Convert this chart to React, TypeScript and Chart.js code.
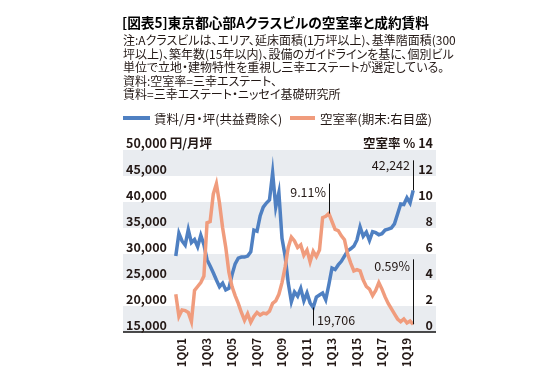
import React, { useEffect, useRef } from 'react';
import { Chart, registerables } from 'chart.js';

Chart.register(...registerables);

// ---- data ----
const quarters = [
  '3Q00', '4Q00',
  '1Q01', '2Q01', '3Q01', '4Q01',
  '1Q02', '2Q02', '3Q02', '4Q02',
  '1Q03', '2Q03', '3Q03', '4Q03',
  '1Q04', '2Q04', '3Q04', '4Q04',
  '1Q05', '2Q05', '3Q05', '4Q05',
  '1Q06', '2Q06', '3Q06', '4Q06',
  '1Q07', '2Q07', '3Q07', '4Q07',
  '1Q08', '2Q08', '3Q08', '4Q08',
  '1Q09', '2Q09', '3Q09', '4Q09',
  '1Q10', '2Q10', '3Q10', '4Q10',
  '1Q11', '2Q11', '3Q11', '4Q11',
  '1Q12', '2Q12', '3Q12', '4Q12',
  '1Q13', '2Q13', '3Q13', '4Q13',
  '1Q14', '2Q14', '3Q14', '4Q14',
  '1Q15', '2Q15', '3Q15', '4Q15',
  '1Q16', '2Q16', '3Q16', '4Q16',
  '1Q17', '2Q17', '3Q17', '4Q17',
  '1Q18', '2Q18', '3Q18', '4Q18',
  '1Q19', '2Q19', '3Q19',
];

// 賃料/月・坪(共益費除く)  円
const rent = [
  29600, 34000,
  32500, 31700, 34700, 32200,
  32800, 31400, 33600, 31800,
  28900, 27700, 26400, 25000,
  23700, 24400, 23100, 23400,
  26000, 28100, 29200, 29400,
  29400, 29600, 30400, 34600,
  34400, 37300, 39000, 39800,
  40400, 45600, 39000, 41800,
  33000, 29600, 24400, 20800,
  22700, 21900, 23400, 21000,
  22500, 20600, 19706, 21700,
  22100, 22500, 21200, 24100,
  27300, 27000, 27900, 28600,
  29600, 30600, 31000, 31500,
  32700, 35200, 33400, 34200,
  32600, 34300, 34100, 33700,
  33900, 34600, 34800, 35000,
  35800, 37700, 39600, 39500,
  40800, 39800, 42242,
];

// 空室率(期末) %
const vacancy = [
  2.9, 1.2,
  1.7, 1.65, 1.5, 0.8,
  3.2, 3.5, 3.8, 4.3,
  8.4, 8.5, 10.6, 11.4,
  9.9, 8.0, 6.5, 4.6,
  3.5, 2.8, 2.2, 1.5,
  0.9, 1.4, 0.75, 1.2,
  1.5, 1.3, 1.45, 1.4,
  1.6, 2.2, 2.4, 2.9,
  3.8, 5.0, 6.5, 7.3,
  7.0, 6.5, 6.7, 5.9,
  6.3, 5.4, 6.2, 5.8,
  6.3, 8.8, 8.9, 9.11,
  8.5, 7.9, 7.8, 7.4,
  7.1, 6.0, 5.3, 4.7,
  4.8, 4.7, 4.0, 3.5,
  3.3, 2.8, 3.2, 3.8,
  3.3, 2.7, 2.2, 1.8,
  1.4, 1.0, 0.8, 1.0,
  0.7, 0.85, 0.59,
];

const xTickLabels = ['1Q01', '1Q03', '1Q05', '1Q07', '1Q09', '1Q11', '1Q13', '1Q15', '1Q17', '1Q19'];
const leftTicks = [15000, 20000, 25000, 30000, 35000, 40000, 45000, 50000];
const rightTicks = [0, 2, 4, 6, 8, 10, 12, 14];

const callouts = [
  { quarter: '3Q19', series: 'rent', text: '42,242', len: 30, up: true, textDy: 5, side: 'left' },
  { quarter: '4Q12', series: 'vacancy', text: '9.11%', len: 30, up: true, textDy: 9, side: 'left' },
  { quarter: '3Q11', series: 'rent', text: '19,706', len: 18, up: false, textDy: 5, side: 'right' },
  { quarter: '3Q19', series: 'vacancy', text: '0.59%', len: 65, up: true, textDy: 7, side: 'left' },
];

const BLUE = '#4f80c2';
const ORANGE = '#f09c7d';
const BAND = '#e9ecf0';
const INK = '#231815';
const FONT = '"Noto Sans CJK JP", "Noto Sans", sans-serif';

const fmt = (v: number) => v.toLocaleString('en-US');

const decorPlugin = {
  id: 'decor',
  beforeDatasetsDraw(chart: any) {
    const { ctx, chartArea: a, scales } = chart;
    const y = scales.yL;
    ctx.save();
    ctx.fillStyle = BAND;
    for (let i = 0; i < leftTicks.length - 1; i += 2) {
      const top = y.getPixelForValue(leftTicks[i + 1]);
      const bot = y.getPixelForValue(leftTicks[i]);
      ctx.fillRect(a.left, top, a.right - a.left, bot - top);
    }
    ctx.restore();
  },
  afterDatasetsDraw(chart: any) {
    const { ctx, chartArea: a, scales } = chart;
    const yL = scales.yL;
    const yR = scales.yR;
    const x = scales.x;
    ctx.save();
    // bottom axis line
    ctx.strokeStyle = '#111';
    ctx.lineWidth = 1.5;
    ctx.beginPath();
    ctx.moveTo(a.left, a.bottom);
    ctx.lineTo(a.right, a.bottom);
    ctx.stroke();

    // left tick labels
    ctx.fillStyle = INK;
    ctx.font = `bold 12.5px ${FONT}`;
    ctx.textBaseline = 'middle';
    ctx.textAlign = 'left';
    leftTicks.forEach((v, i) => {
      const py = yL.getPixelForValue(v) - 7;
      const t = i === leftTicks.length - 1 ? `${fmt(v)} 円/月坪` : fmt(v);
      ctx.fillText(t, a.left + 3, py);
    });
    // right tick labels
    ctx.textAlign = 'right';
    rightTicks.forEach((v, i) => {
      const py = yR.getPixelForValue(v) - 7;
      const t = i === rightTicks.length - 1 ? `空室率 % ${v}` : String(v);
      ctx.fillText(t, a.right - 3, py);
    });

    // x tick labels (rotated)
    ctx.font = `bold 11.5px ${FONT}`;
    xTickLabels.forEach((lab) => {
      const idx = quarters.indexOf(lab);
      const px = x.getPixelForValue(idx);
      ctx.save();
      ctx.translate(px, a.bottom + 6);
      ctx.rotate(-Math.PI / 2);
      ctx.textAlign = 'right';
      ctx.textBaseline = 'middle';
      ctx.fillText(lab, 0, 0);
      ctx.restore();
    });

    // callouts
    ctx.font = `12.5px ${FONT}`;
    ctx.strokeStyle = '#111';
    ctx.lineWidth = 1;
    callouts.forEach((c) => {
      const idx = quarters.indexOf(c.quarter);
      const val = c.series === 'rent' ? rent[idx] : vacancy[idx];
      const scale = c.series === 'rent' ? yL : yR;
      const px = Math.round(x.getPixelForValue(idx)) + 0.5;
      const py = scale.getPixelForValue(val);
      const end = c.up ? py - c.len : py + c.len;
      ctx.beginPath();
      ctx.moveTo(px, py);
      ctx.lineTo(px, end);
      ctx.stroke();
      const ty = c.up ? end + c.textDy : end - c.textDy;
      ctx.textBaseline = 'middle';
      if (c.side === 'left') {
        ctx.textAlign = 'right';
        ctx.fillText(c.text, px - 3.5, ty);
      } else {
        ctx.textAlign = 'left';
        ctx.fillText(c.text, px + 3.5, ty);
      }
    });
    ctx.restore();
  },
};

export default function App() {
  const ref = useRef<HTMLCanvasElement | null>(null);

  useEffect(() => {
    if (!ref.current) return;
    const first = quarters.indexOf(xTickLabels[0]);
    const chart = new Chart(ref.current, {
      type: 'line',
      data: {
        datasets: [
          {
            label: '空室率(期末:右目盛)',
            data: vacancy.map((v, i) => ({ x: i, y: v })),
            yAxisID: 'yR',
            borderColor: ORANGE,
            borderWidth: 3.5,
            pointRadius: 0,
            fill: false,
            tension: 0,
          },
          {
            label: '賃料/月・坪(共益費除く)',
            data: rent.map((v, i) => ({ x: i, y: v })),
            yAxisID: 'yL',
            borderColor: BLUE,
            borderWidth: 3.5,
            pointRadius: 0,
            fill: false,
            tension: 0,
          },
        ],
      },
      options: {
        responsive: false,
        animation: false,
        events: [],
        layout: { padding: { left: 123, right: 123, top: 150, bottom: 48 } },
        plugins: { legend: { display: false }, tooltip: { enabled: false } },
        scales: {
          x: { type: 'linear', display: false, min: first - 18.9, max: first + 81.3 },
          yL: { type: 'linear', display: false, position: 'left', min: 15000, max: 50000 },
          yR: { type: 'linear', display: false, position: 'right', min: 0, max: 14 },
        },
      },
      plugins: [decorPlugin],
    } as any);
    return () => chart.destroy();
  }, []);

  const textBase: React.CSSProperties = {
    position: 'absolute',
    fontFamily: FONT,
    color: INK,
    whiteSpace: 'nowrap',
    fontFeatureSettings: '"palt"',
  };

  return (
    <div style={{ position: 'relative', width: 559, height: 380, marginLeft: -8, marginTop: -8, background: '#fff' }}>
      <canvas ref={ref} width={559} height={380} style={{ position: 'absolute', left: 0, top: 0 }} />
      <div style={{ ...textBase, left: 122, top: 13, fontSize: 13.7, fontWeight: 'bold', lineHeight: '18px', color: '#000' }}>
        [図表5]東京都心部Aクラスビルの空室率と成約賃料
      </div>
      <div style={{ ...textBase, left: 123, top: 33, fontSize: 12, lineHeight: '13.5px' }}>
        注:Aクラスビルは、エリア、延床面積(1万坪以上)、基準階面積(300
        <br />
        坪以上)、築年数(15年以内)、設備のガイドラインを基に、個別ビル
        <br />
        単位で立地・建物特性を重視し三幸エステートが選定している。
        <br />
        資料:空室率=三幸エステート、
        <br />
        賃料=三幸エステート・ニッセイ基礎研究所
      </div>
      <div style={{ position: 'absolute', left: 123, top: 116, width: 27, height: 4, background: BLUE }} />
      <div style={{ ...textBase, left: 154, top: 110, fontSize: 12.5, lineHeight: '17px' }}>賃料/月・坪(共益費除く)</div>
      <div style={{ position: 'absolute', left: 290, top: 116, width: 25, height: 4, background: ORANGE }} />
      <div style={{ ...textBase, left: 320, top: 110, fontSize: 12.5, lineHeight: '17px' }}>空室率(期末:右目盛)</div>
    </div>
  );
}
